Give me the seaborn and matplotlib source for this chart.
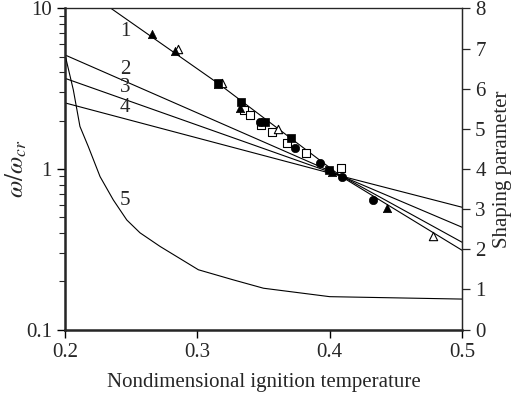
import numpy as np
import pandas as pd
import matplotlib
matplotlib.use("Agg")
import matplotlib.pyplot as plt
import seaborn as sns

# ---- data ----
# theoretical lines (log axis, omega/omega_cr)
line1_x = [0.2348, 0.3160, 0.4095, 0.5]
line1_y = [10.0, 3.40, 0.89, 0.312]
line2_x = [0.2, 0.4095, 0.5]
line2_y = [5.13, 0.90, 0.350]
line3_x = [0.2, 0.4095, 0.5]
line3_y = [3.67, 0.90, 0.434]
line4_x = [0.2, 0.4095, 0.5]
line4_y = [2.58, 0.90, 0.578]

# curve 5 (shaping parameter, right axis)
line5_x = [0.2, 0.2063, 0.2113, 0.2176, 0.2265, 0.2365, 0.2467, 0.2567,
           0.2719, 0.3008, 0.327, 0.35, 0.40, 0.5]
line5_y = [6.85, 5.97, 5.06, 4.56, 3.81, 3.23, 2.73, 2.41,
           2.07, 1.49, 1.24, 1.03, 0.82, 0.76]

# experimental points
tri_f_x = [0.2660, 0.2832, 0.3160, 0.3324, 0.4017, 0.4433]
tri_f_y = [6.93, 5.45, 3.40, 2.39, 0.962, 0.569]
tri_o_x = [0.2857, 0.3185, 0.3613, 0.4781]
tri_o_y = [5.56, 3.45, 1.77, 0.383]
sq_f_x = [0.3160, 0.3329, 0.3513, 0.3707, 0.3992]
sq_f_y = [3.42, 2.60, 1.95, 1.55, 0.986]
sq_o_x = [0.3349, 0.3400, 0.3483, 0.3564, 0.3677, 0.3823, 0.4088]
sq_o_y = [2.33, 2.17, 1.88, 1.69, 1.46, 1.25, 1.01]
ci_f_x = [0.3475, 0.3740, 0.3924, 0.4093, 0.4325]
ci_f_y = [1.97, 1.35, 1.09, 0.892, 0.641]

labels = ["1", "2", "3", "4", "5"]
label_x = [0.2454, 0.2454, 0.2454, 0.2454, 0.2454]
label_y = [7.18, 4.15, 3.20, 2.41, 0.64]

x_ticks = [0.2, 0.3, 0.4, 0.5]
x_ticklabels = ["0.2", "0.3", "0.4", "0.5"]
xlabel = "Nondimensional ignition temperature"
ylabel_right = "Shaping parameter"

# ---- style ----
sns.set_style("ticks")
plt.rcParams["font.family"] = ["Liberation Serif", "DejaVu Serif"]
plt.rcParams["mathtext.fontset"] = "stix"

fig = plt.figure(figsize=(5.17, 4.08), dpi=100)
ax = fig.add_axes([0.1257, 0.1922, 0.7679, 0.7872])
ax.set_yscale("log")
ax.set_xlim(0.2, 0.5)
ax.set_ylim(0.1, 10)

lw = 0.8
for xs, ys in [(line1_x, line1_y), (line2_x, line2_y), (line3_x, line3_y), (line4_x, line4_y)]:
    sns.lineplot(x=xs, y=ys, ax=ax, color="black", linewidth=lw, sort=False,
                 estimator=None, legend=False, zorder=2)

ms = 36
sns.scatterplot(x=sq_o_x, y=sq_o_y, ax=ax, marker="s", s=ms, color="white",
                edgecolor="black", linewidth=0.8, zorder=3, legend=False)
sns.scatterplot(x=tri_o_x, y=tri_o_y, ax=ax, marker="^", s=ms, color="white",
                edgecolor="black", linewidth=0.8, zorder=3, legend=False)
sns.scatterplot(x=sq_f_x, y=sq_f_y, ax=ax, marker="s", s=ms, color="black",
                edgecolor="black", linewidth=0.5, zorder=4, legend=False)
sns.scatterplot(x=tri_f_x, y=tri_f_y, ax=ax, marker="^", s=ms, color="black",
                edgecolor="black", linewidth=0.5, zorder=4, legend=False)
sns.scatterplot(x=ci_f_x, y=ci_f_y, ax=ax, marker="o", s=ms, color="black",
                edgecolor="black", linewidth=0.5, zorder=4, legend=False)

for t, lx, ly in zip(labels, label_x, label_y):
    ax.text(lx, ly, t, fontsize=15, ha="center", va="center", zorder=5)

ax.set_xticks(x_ticks)
ax.set_xticklabels(x_ticklabels)
ax.set_yticks([0.1, 1, 10])
ax.set_yticklabels(["0.1", "1", "10"])
ax.tick_params(axis="both", which="major", labelsize=15, length=6, width=1.0,
               direction="out", color="black")
ax.tick_params(axis="y", which="minor", length=4, width=0.8, direction="out")
ax.set_xlabel(xlabel, fontsize=15, labelpad=8)
ax.set_ylabel(r"$\omega/\omega_{cr}$", fontsize=18, labelpad=-2)
for side in ["left", "bottom"]:
    ax.spines[side].set_linewidth(1.8)
for side in ["top", "right"]:
    ax.spines[side].set_visible(True)
    ax.spines[side].set_linewidth(0.9)

ax2 = ax.twinx()
ax2.set_ylim(0, 8)
sns.lineplot(x=line5_x, y=line5_y, ax=ax2, color="black", linewidth=lw,
             sort=False, estimator=None, legend=False)
ax2.set_yticks(range(0, 9))
ax2.tick_params(axis="y", labelsize=15, length=6, width=0.9, direction="out")
ax2.set_ylabel(ylabel_right, fontsize=15, labelpad=5)
ax2.spines["right"].set_visible(True)
ax2.spines["right"].set_linewidth(0.9)
ax2.spines["top"].set_visible(True)

fig.savefig("out.png", dpi=100)
